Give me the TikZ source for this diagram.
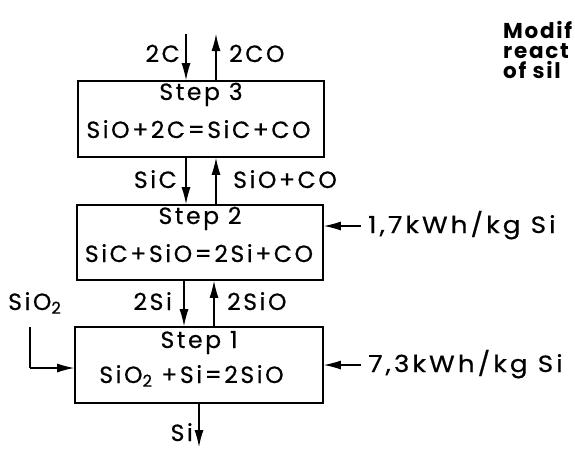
\documentclass[tikz,border=0pt]{standalone}
\usepackage{fontspec}
\usetikzlibrary{arrows.meta}
\newfontfamily\pf[LetterSpace=11,FakeBold=0.5]{Poppins}
\newfontfamily\pfe[LetterSpace=13,FakeStretch=1.12,FakeBold=0.5]{Poppins}
\newfontfamily\pft[LetterSpace=8]{Poppins}
\begin{document}
\begin{tikzpicture}[x=1pt,y=-1pt,
  box/.style={draw,line width=1.6pt,inner sep=0pt},
  lbl/.style={inner sep=0pt,font=\pf\fontsize{23.5}{28}\selectfont},
  elbl/.style={inner sep=0pt,font=\pfe\fontsize{23.5}{28}\selectfont},
  ttl/.style={inner sep=0pt,font=\pft\fontsize{21.5}{24}\selectfont\bfseries},
  arr/.style={line width=1.2pt,-{Latex[length=17pt,width=9pt]}},
  ln/.style={line width=1.2pt}]
\useasboundingbox (0,0) rectangle (575,448);
% boxes
\node[box,minimum width=246pt,minimum height=76pt] (b3) at (201,119) {};
\node[box,minimum width=246pt,minimum height=75pt] (b2) at (200,242.5) {};
\node[box,minimum width=248pt,minimum height=76pt] (b1) at (199,365) {};
% box texts
\node[lbl,anchor=base] (s3) at (201,100) {Step 3};
\node[lbl,anchor=base] (e3) at (198.5,138) {SiO+2C=SiC+CO};
\node[lbl,anchor=base] (s2) at (200,224) {Step 2};
\node[lbl,anchor=base] (e2) at (199,262) {SiC+SiO=2Si+CO};
\node[lbl,anchor=base] (s1) at (199,348) {Step 1};
\node[lbl,anchor=base] (e1) at (191.5,383) {SiO\textsubscript{2} +Si=2SiO};
% x positions
\coordinate (xa) at (186,0);
\coordinate (xb) at (216,0);
\coordinate (xc) at (184,0);
\coordinate (xd) at (214,0);
\coordinate (xe) at (199,0);
% top arrows
\coordinate (t1) at (186,34);
\coordinate (t2) at (216,34);
\draw[arr] (t1) -- (b3.north -| xa);
\draw[arr] (b3.north -| xb) -- (t2);
\node[lbl,anchor=base east] (l2c) at (180,62) {2C};
\node[lbl,anchor=base west] (l2co) at (229,62) {2CO};
% between 3 and 2
\draw[arr] (b3.south -| xa) -- (b2.north -| xa);
\draw[arr] (b2.north -| xb) -- (b3.south -| xb);
\node[lbl,anchor=base east] (lsic) at (177,188) {SiC};
\node[lbl,anchor=base west] (lsioco) at (233,188) {SiO+CO};
% between 2 and 1
\draw[arr] (b2.south -| xc) -- (b1.north -| xc);
\draw[arr] (b1.north -| xd) -- (b2.south -| xd);
\node[lbl,anchor=base east] (l2si) at (172,310) {2Si};
\node[lbl,anchor=base west] (l2sio) at (227,310) {2SiO};
% bottom
\coordinate (bo) at (199,447);
\draw[arr] (b1.south -| xe) -- (bo);
\node[lbl,anchor=base east] (lsi) at (193,441) {Si};
% SiO2 input
\node[lbl,anchor=base west] (lsio2) at (8,310) {SiO\textsubscript{2}};
\coordinate (in0) at (30,327);
\coordinate (in1) at (30,368);
\draw[ln] (in0) -- (in1);
\draw[arr] (in1) -- (in1 -| b1.west);
% energy
\node[elbl,anchor=base west] (en2) at (368,233) {1,7kWh/kg Si};
\node[elbl,anchor=base west] (en1) at (368,372) {7,3kWh/kg Si};
\coordinate (ea) at (361,226);
\coordinate (eb) at (361,365);
\draw[arr] (ea) -- (ea -| b2.east);
\draw[arr] (eb) -- (eb -| b1.east);
% title
\node[ttl,anchor=base west] (tt1) at (503,38) {Modif};
\node[ttl,anchor=base west] (tt2) at (503,58) {react};
\node[ttl,anchor=base west] (tt3) at (503,78) {of sil};
\end{tikzpicture}
\end{document}
